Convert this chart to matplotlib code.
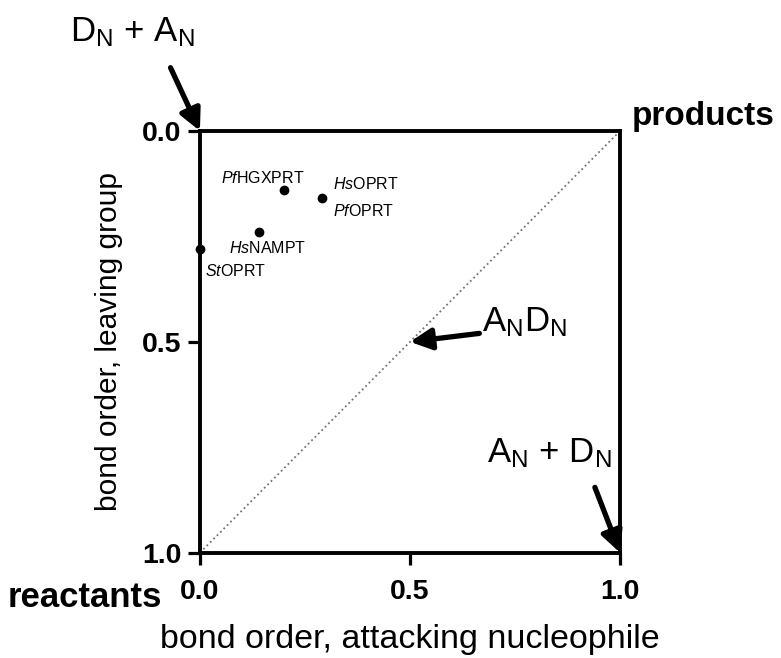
import matplotlib
matplotlib.use('Agg')
import matplotlib.pyplot as plt

plt.rcParams['font.family'] = ['Liberation Sans', 'DejaVu Sans']
plt.rcParams['mathtext.fontset'] = 'custom'
plt.rcParams['mathtext.rm'] = 'Liberation Sans'
plt.rcParams['mathtext.it'] = 'Liberation Sans:italic'

# -------------------------------------------------------------------------
# data (bond order of nucleophile, bond order of leaving group)

names = [r'$\mathit{Pf}\mathrm{HGXPRT}$', r'$\mathit{Hs}\mathrm{OPRT}$',
         r'$\mathit{Hs}\mathrm{NAMPT}$', r'$\mathit{St}\mathrm{OPRT}$']
nuc = [0.20, 0.29, 0.14, 0.0]
lg = [0.14, 0.16, 0.24, 0.28]
ticks = [0.0, 0.5, 1.0]
tick_labels = ['0.0', '0.5', '1.0']

# -------------------------------------------------------------------------

fig = plt.figure(figsize=(7.81, 6.58), dpi=100)
ax = fig.add_axes([0.256, 0.160, 0.538, 0.641])

ax.plot([0, 1], [1, 0], linestyle=':', color='0.45', lw=1.3)
ax.plot(nuc, lg, 'o', color='k', ms=6, clip_on=False, zorder=5)

# point labels
fs_pt = 11.5
ax.text(0.15, 0.111, names[0], fontsize=fs_pt, ha='center', va='center')
ax.text(0.317, 0.126, names[1], fontsize=fs_pt, ha='left', va='center')
ax.text(0.317, 0.19, r'$\mathit{Pf}\mathrm{OPRT}$', fontsize=fs_pt, ha='left', va='center')
ax.text(0.069, 0.277, names[2], fontsize=fs_pt, ha='left', va='center')
ax.text(0.012, 0.332, names[3], fontsize=fs_pt, ha='left', va='center')

ax.set_xlim(0, 1)
ax.set_ylim(1, 0)
ax.tick_params(direction='out', length=8.5, width=2.3)
ax.tick_params(axis='x', pad=10.5)
ax.tick_params(axis='y', pad=5)
ax.set_xticks(ticks)
ax.set_xticklabels(tick_labels, fontsize=20.5, fontweight='bold')
ax.set_yticks(ticks)
ax.set_yticklabels(tick_labels, fontsize=20.5, fontweight='bold')
for s in ax.spines.values():
    s.set_linewidth(2.8)

ax.set_xlabel('bond order, attacking nucleophile', fontsize=24.5)
ax.set_ylabel('bond order, leaving group', fontsize=21.5)
ax.xaxis.set_label_coords(0.5, -0.168)
ax.yaxis.set_label_coords(-0.183, 0.5)

fig.text(0.809, 0.810, 'products', fontsize=24, fontweight='bold', va='baseline')
fig.text(0.010, 0.0775, 'reactants', fontsize=25, fontweight='bold', va='baseline')

# arrows
aprops = dict(arrowstyle='-|>', lw=3.8, color='k', mutation_scale=32, shrinkA=0, shrinkB=0)
ax.annotate('', xy=(0, 0), xytext=(-0.07, -0.15), arrowprops=aprops, annotation_clip=False)
ax.annotate('', xy=(0.5, 0.5), xytext=(0.665, 0.48), arrowprops=aprops)
ax.annotate('', xy=(1.0, 1.0), xytext=(0.94, 0.845), arrowprops=aprops, annotation_clip=False)

fig.text(0.170, 0.951, r'D$_\mathregular{N}$ + A$_\mathregular{N}$', fontsize=25, ha='center', va='center')
fig.text(0.672, 0.511, r'A$_\mathregular{N}$D$_\mathregular{N}$', fontsize=25, ha='center', va='center')
fig.text(0.703, 0.312, r'A$_\mathregular{N}$ + D$_\mathregular{N}$', fontsize=25, ha='center', va='center')

fig.savefig('out.png', dpi=100)
